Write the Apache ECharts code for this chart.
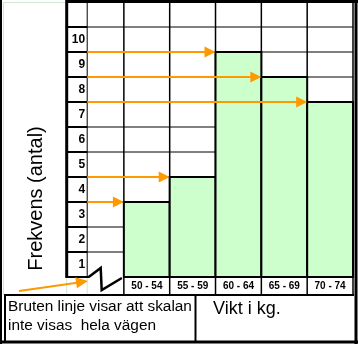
<!DOCTYPE html>
<html><head><meta charset="utf-8">
<script src="https://cdn.jsdelivr.net/npm/echarts@6/dist/echarts.min.js"></script>
<style>html,body{margin:0;padding:0;background:#fff}#c{width:358px;height:344px}</style>
</head><body><div id="c"></div>
<script>
// ---- data ----
const categories = ['50 - 54', '55 - 59', '60 - 64', '65 - 69', '70 - 74'];
const binStarts = [50, 55, 60, 65, 70];
const binWidth = 5;
const frequencies = [3, 4, 9, 8, 7];
const yTickLabels = ['1', '2', '3', '4', '5', '6', '7', '8', '9', '10'];
const xMin = 46, xMax = 75, yMax = 11;
const yAxisTitle = 'Frekvens (antal)';
const xAxisTitle = 'Vikt i kg.';
const noteLines = ['Bruten linje visar att skalan', 'inte visas  hela vägen'];

const FONT = '"Liberation Sans", Arial, sans-serif';
const ORANGE = '#FF9900';

function arrowHead(x1, y1, x2, y2, len, half) {
  const a = Math.atan2(y2 - y1, x2 - x1);
  const bx = x2 - len * Math.cos(a), by = y2 - len * Math.sin(a);
  return {
    base: [bx, by],
    pts: [[x2, y2], [bx + half * Math.sin(a), by - half * Math.cos(a)], [bx - half * Math.sin(a), by + half * Math.cos(a)]]
  };
}

function tableRender(params, api) {
  const o = api.coord([xMin, 0]);
  const tr = api.coord([xMax, yMax]);
  const ch = [];
  const L = (x1, y1, x2, y2, w, c) => ch.push({ type: 'line', shape: { x1, y1, x2, y2 }, style: { stroke: c || '#000', lineWidth: w } });
  const labelLeft = o[0] - 20.5;
  const rowBottom = o[1] + 18;
  // faint sheet lines
  L(o[0], o[1], o[0], rowBottom, 1, '#cfe8cf');
  L(labelLeft, o[1], labelLeft, rowBottom, 1, '#cfe8cf');
  L(3.5, 2, 3.5, rowBottom, 1, '#cfe8cf');
  L(3, 2.5, labelLeft, 2.5, 1, '#cfe8cf');
  for (let v = 0; v <= 10; v++) {
    const p = api.coord([xMin, v]);
    if (v > 0) L(o[0], p[1], tr[0], p[1], 1);
    L(labelLeft, p[1], o[0] + (v === 0 ? 2 : 0), p[1], 2);
  }
  L(o[0], tr[1], o[0], o[1], 1);
  const edges = binStarts.concat([binStarts[binStarts.length - 1] + binWidth]);
  edges.forEach(e => { const p = api.coord([e, 0]); L(p[0], tr[1], p[0], rowBottom, 1.5); });
  L(labelLeft, 0, labelLeft, o[1] + 1, 3);
  // zigzag (broken axis)
  const b = api.coord([binStarts[0], 0]);
  ch.push({ type: 'polyline', shape: { points: [[o[0] + 1.5, o[1]], [o[0] + 13.5, o[1] - 9], [o[0] + 14.5, o[1] + 13], [b[0] - 2, o[1] + 1]] },
    style: { stroke: '#000', fill: null, lineWidth: 2.5 } });
  return { type: 'group', children: ch };
}

function barRender(params, api) {
  const p0 = api.coord([api.value(0), api.value(1)]);
  const p1 = api.coord([api.value(2), 0]);
  return { type: 'rect', shape: { x: p0[0], y: p0[1], width: p1[0] - p0[0], height: p1[1] - p0[1] },
    style: { fill: '#CCFFCC', stroke: '#000', lineWidth: 2 } };
}

function arrowRender(params, api) {
  const s = api.coord([api.value(0), api.value(1)]);
  const e = api.coord([api.value(2), api.value(1)]);
  const h = arrowHead(s[0], s[1], e[0], e[1], 11, 5.5);
  return { type: 'group', children: [
    { type: 'line', shape: { x1: s[0], y1: s[1], x2: h.base[0] + 1, y2: h.base[1] }, style: { stroke: ORANGE, lineWidth: 2 } },
    { type: 'polygon', shape: { points: h.pts }, style: { fill: ORANGE } }
  ] };
}

const chart = echarts.init(document.getElementById('c'), null, { renderer: 'canvas' });

const ah = arrowHead(19, 291, 88, 281, 12, 5.5);

chart.setOption({
  animation: false,
  backgroundColor: '#fff',
  grid: [
    { left: 87.2, right: 5, top: 2, bottom: 67 },
    { left: 124, right: 5, top: 2, bottom: 67 }
  ],
  xAxis: [
    { type: 'value', gridIndex: 0, min: xMin, max: xMax, show: false },
    { type: 'category', gridIndex: 1, data: categories, boundaryGap: true,
      axisLine: { show: false }, axisTick: { show: false }, splitLine: { show: false },
      axisLabel: { color: '#000', fontFamily: FONT, fontWeight: 'bold', fontSize: 10, margin: 4, interval: 0 } }
  ],
  yAxis: [
    { type: 'value', gridIndex: 0, min: 0, max: yMax, show: false },
    { type: 'category', gridIndex: 0, data: yTickLabels.concat(['']), boundaryGap: true, position: 'left',
      axisLine: { show: false }, axisTick: { show: false }, splitLine: { show: false },
      axisLabel: { color: '#000', fontFamily: FONT, fontWeight: 'bold', fontSize: 12, margin: 2, interval: 0, padding: [0, 0, 7, 0] } },
    { type: 'value', gridIndex: 1, show: false }
  ],
  series: [
    { type: 'custom', xAxisIndex: 0, yAxisIndex: 0, clip: false, z: 1, silent: true,
      data: [[xMin, 0]], renderItem: tableRender },
    { type: 'custom', xAxisIndex: 0, yAxisIndex: 0, clip: false, z: 2, silent: true,
      encode: { x: [0, 2], y: 1 },
      data: frequencies.map((f, i) => [binStarts[i], f, binStarts[i] + binWidth]), renderItem: barRender },
    { type: 'custom', xAxisIndex: 0, yAxisIndex: 0, clip: false, z: 3, silent: true,
      encode: { x: [0, 2], y: 1 },
      data: frequencies.map((f, i) => [xMin, f, binStarts[i]]), renderItem: arrowRender }
  ],
  graphic: [
    // outer borders
    { type: 'line', shape: { x1: 1, y1: 0, x2: 1, y2: 344 }, style: { stroke: '#000', lineWidth: 2 }, z: 10 },
    { type: 'line', shape: { x1: 66, y1: 1.5, x2: 358, y2: 1.5 }, style: { stroke: '#000', lineWidth: 3 }, z: 10 },
    { type: 'line', shape: { x1: 356, y1: 0, x2: 356, y2: 344 }, style: { stroke: '#000', lineWidth: 3 }, z: 10 },
    { type: 'line', shape: { x1: 0, y1: 342, x2: 358, y2: 342 }, style: { stroke: '#000', lineWidth: 3 }, z: 10 },
    // bottom boxes
    { type: 'line', shape: { x1: 4, y1: 295, x2: 354, y2: 295 }, style: { stroke: '#000', lineWidth: 2 }, z: 10 },
    { type: 'line', shape: { x1: 5, y1: 294, x2: 5, y2: 342 }, style: { stroke: '#000', lineWidth: 2 }, z: 10 },
    { type: 'line', shape: { x1: 195.5, y1: 294, x2: 195.5, y2: 342 }, style: { stroke: '#000', lineWidth: 2 }, z: 10 },
    // annotation arrow
    { type: 'line', shape: { x1: 19, y1: 291, x2: ah.base[0] + 1, y2: ah.base[1] }, style: { stroke: ORANGE, lineWidth: 2 }, z: 10 },
    { type: 'polygon', shape: { points: ah.pts }, style: { fill: ORANGE }, z: 10 },
    // texts
    { type: 'text', x: 36, y: 198.5, rotation: Math.PI / 2, z: 10,
      style: { text: yAxisTitle, font: '20px ' + FONT, fill: '#000', textAlign: 'center', textVerticalAlign: 'middle' } },
    { type: 'text', x: 213, y: 309.5, z: 10,
      style: { text: xAxisTitle, font: '18px ' + FONT, fill: '#000', textAlign: 'left', textVerticalAlign: 'middle' } },
    { type: 'text', x: 8, y: 307, z: 10,
      style: { text: noteLines[0], font: '15.4px ' + FONT, fill: '#000', textAlign: 'left', textVerticalAlign: 'middle' } },
    { type: 'text', x: 8, y: 325.5, z: 10,
      style: { text: noteLines[1], font: '15.4px ' + FONT, fill: '#000', textAlign: 'left', textVerticalAlign: 'middle' } }
  ]
});
</script>
</body></html>
